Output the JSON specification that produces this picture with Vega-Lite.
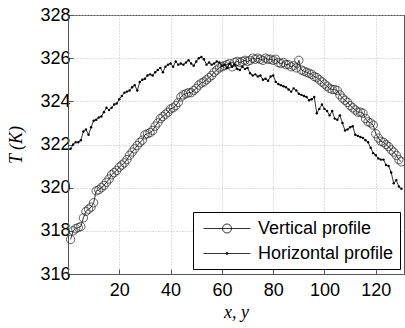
{
 "$schema": "https://vega.github.io/schema/vega-lite/v6.json",
 "width": 336, "height": 259,
 "autosize": {"type": "none"},
 "padding": {"left": 68, "top": 15, "right": 1, "bottom": 54},
 "background": "white",
 "config": {
  "view": {"stroke": "#555", "strokeWidth": 1},
  "axis": {"labelFont": "Liberation Sans", "labelFontSize": 18, "labelColor": "black", "titleFont": "Liberation Serif", "titleFontStyle": "italic", "titleFontWeight": "normal", "titleFontSize": 18, "titleColor": "black", "grid": true, "gridColor": "#bdbdbd", "gridDash": [1, 2], "gridWidth": 1, "domainColor": "#555", "tickColor": "#555", "tickSize": -5}
 },
 "data": {"values": [
  {"x":1,"V":317.6,"H":321.8},{"x":2,"V":318.0,"H":322.0},{"x":3,"V":318.1,"H":322.1},{"x":4,"V":318.15,"H":322.1},{"x":5,"V":318.2,"H":322.2},
  {"x":6,"V":318.6,"H":322.6},{"x":7,"V":318.9,"H":322.7},{"x":8,"V":319.0,"H":322.45},{"x":9,"V":319.1,"H":322.8},{"x":10,"V":319.3,"H":323.1},
  {"x":11,"V":319.85,"H":323.15},{"x":12,"V":319.9,"H":323.25},{"x":13,"V":320.0,"H":323.3},{"x":14,"V":320.1,"H":323.5},{"x":15,"V":320.25,"H":323.7},
  {"x":16,"V":320.4,"H":323.6},{"x":17,"V":320.6,"H":323.7},{"x":18,"V":320.7,"H":323.85},{"x":19,"V":320.8,"H":323.9},{"x":20,"V":320.95,"H":324.1},
  {"x":21,"V":321.05,"H":324.25},{"x":22,"V":321.15,"H":324.4},{"x":23,"V":321.3,"H":324.45},{"x":24,"V":321.5,"H":324.5},{"x":25,"V":321.65,"H":324.65},
  {"x":26,"V":321.8,"H":324.75},{"x":27,"V":321.95,"H":324.5},{"x":28,"V":322.1,"H":324.9},{"x":29,"V":322.2,"H":325.0},{"x":30,"V":322.45,"H":325.05},
  {"x":31,"V":322.5,"H":325.2},{"x":32,"V":322.55,"H":325.25},{"x":33,"V":322.65,"H":325.2},{"x":34,"V":322.85,"H":325.35},{"x":35,"V":323.0,"H":325.45},
  {"x":36,"V":323.2,"H":325.55},{"x":37,"V":323.3,"H":325.35},{"x":38,"V":323.4,"H":325.6},{"x":39,"V":323.5,"H":325.7},{"x":40,"V":323.65,"H":325.75},
  {"x":41,"V":323.7,"H":325.6},{"x":42,"V":323.8,"H":325.85},{"x":43,"V":323.95,"H":325.7},{"x":44,"V":324.2,"H":325.75},{"x":45,"V":324.3,"H":325.7},
  {"x":46,"V":324.35,"H":325.8},{"x":47,"V":324.4,"H":325.9},{"x":48,"V":324.4,"H":325.75},{"x":49,"V":324.5,"H":325.65},{"x":50,"V":324.6,"H":325.85},
  {"x":51,"V":324.75,"H":326.0},{"x":52,"V":324.85,"H":326.05},{"x":53,"V":324.9,"H":325.95},{"x":54,"V":325.0,"H":325.7},{"x":55,"V":325.1,"H":325.8},
  {"x":56,"V":325.2,"H":325.7},{"x":57,"V":325.35,"H":325.75},{"x":58,"V":325.45,"H":325.85},{"x":59,"V":325.55,"H":325.8},{"x":60,"V":325.6,"H":325.65},
  {"x":61,"V":325.65,"H":325.7},{"x":62,"V":325.7,"H":325.55},{"x":63,"V":325.75,"H":325.75},{"x":64,"V":325.6,"H":325.6},{"x":65,"V":325.8,"H":325.7},
  {"x":66,"V":325.85,"H":325.5},{"x":67,"V":325.8,"H":325.45},{"x":68,"V":325.85,"H":325.6},{"x":69,"V":325.9,"H":325.5},{"x":70,"V":325.85,"H":325.55},
  {"x":71,"V":325.9,"H":325.3},{"x":72,"V":326.0,"H":325.2},{"x":73,"V":325.95,"H":325.25},{"x":74,"V":326.0,"H":325.15},{"x":75,"V":325.95,"H":325.2},
  {"x":76,"V":325.9,"H":325.0},{"x":77,"V":326.0,"H":325.05},{"x":78,"V":325.95,"H":324.95},{"x":79,"V":325.95,"H":325.15},{"x":80,"V":325.9,"H":325.2},
  {"x":81,"V":325.95,"H":324.9},{"x":82,"V":325.8,"H":324.8},{"x":83,"V":325.75,"H":324.75},{"x":84,"V":325.8,"H":324.7},{"x":85,"V":325.7,"H":324.65},
  {"x":86,"V":325.7,"H":324.55},{"x":87,"V":325.6,"H":324.45},{"x":88,"V":325.65,"H":324.6},{"x":89,"V":325.55,"H":324.5},{"x":90,"V":325.9,"H":324.35},
  {"x":91,"V":325.45,"H":324.3},{"x":92,"V":325.4,"H":324.25},{"x":93,"V":325.35,"H":324.2},{"x":94,"V":325.3,"H":324.05},{"x":95,"V":325.25,"H":324.1},
  {"x":96,"V":325.15,"H":324.2},{"x":97,"V":325.1,"H":323.45},{"x":98,"V":325.0,"H":323.65},{"x":99,"V":324.9,"H":323.85},{"x":100,"V":324.8,"H":323.65},
  {"x":101,"V":324.7,"H":323.55},{"x":102,"V":324.6,"H":323.35},{"x":103,"V":324.55,"H":323.55},{"x":104,"V":324.55,"H":323.2},{"x":105,"V":324.5,"H":323.15},
  {"x":106,"V":324.3,"H":323.35},{"x":107,"V":324.15,"H":323.0},{"x":108,"V":324.05,"H":322.65},{"x":109,"V":323.95,"H":322.7},{"x":110,"V":323.8,"H":322.8},
  {"x":111,"V":323.7,"H":322.85},{"x":112,"V":323.6,"H":322.45},{"x":113,"V":323.5,"H":322.4},{"x":114,"V":323.5,"H":322.35},{"x":115,"V":323.45,"H":322.3},
  {"x":116,"V":323.2,"H":322.2},{"x":117,"V":323.05,"H":322.1},{"x":118,"V":323.0,"H":321.85},{"x":119,"V":322.9,"H":321.6},{"x":120,"V":322.5,"H":321.5},
  {"x":121,"V":322.3,"H":321.35},{"x":122,"V":322.15,"H":321.3},{"x":123,"V":322.1,"H":321.3},{"x":124,"V":322.0,"H":321.05},{"x":125,"V":321.9,"H":321.0},
  {"x":126,"V":321.75,"H":320.7},{"x":127,"V":321.65,"H":320.2},{"x":128,"V":321.5,"H":320.35},{"x":129,"V":321.3,"H":320.05},{"x":130,"V":321.2,"H":319.95}
 ]},
 "transform": [{"fold": ["V", "H"], "as": ["key", "T"]}],
 "encoding": {
  "x": {"field": "x", "type": "quantitative", "scale": {"domain": [0, 131], "nice": false, "zero": false},
        "axis": {"values": [20, 40, 60, 80, 100, 120], "title": "x, y", "labelPadding": 12, "titlePadding": 4}},
  "y": {"field": "T", "type": "quantitative", "scale": {"domain": [316, 328], "nice": false, "zero": false},
        "axis": {"values": [316, 318, 320, 322, 324, 326, 328], "title": "T (K)", "labelPadding": 3, "titlePadding": 14}}
 },
 "layer": [
  {"mark": {"type": "line", "color": "black", "strokeWidth": 0.8}, "encoding": {"detail": {"field": "key"}}},
  {"transform": [{"filter": "datum.key == 'V'"}], "mark": {"type": "point", "shape": "circle", "filled": false, "stroke": "#222", "strokeWidth": 0.7, "size": 70, "opacity": 1}},
  {"transform": [{"filter": "datum.key == 'H'"}], "mark": {"type": "circle", "color": "black", "size": 6, "opacity": 1}},
  {"transform": [{"filter": "datum.x < 0"}], "mark": {"type": "point", "filled": false, "stroke": "black"},
   "encoding": {"shape": {"field": "key", "type": "nominal",
     "scale": {"domain": ["V", "H"], "range": ["M-0.6,0H4.1M2.2,0A0.45,0.45,0,1,1,1.3,0A0.45,0.45,0,1,1,2.2,0", "M-0.6,0H4.1M1.87,0A0.12,0.12,0,1,1,1.63,0A0.12,0.12,0,1,1,1.87,0"]},
     "legend": {"orient": "none", "legendX": 125, "legendY": 197, "title": null, "labelExpr": "datum.label == 'V' ? 'Vertical profile' : 'Horizontal profile'",
       "labelFont": "Liberation Sans", "labelFontSize": 18, "labelColor": "black", "labelOffset": 38, "symbolSize": 400, "symbolStrokeColor": "black", "symbolFillColor": "transparent", "symbolStrokeWidth": 0.8, "symbolOpacity": 1,
       "strokeColor": "black", "fillColor": "white", "padding": 6, "rowPadding": 5}}}}
 ]
}
